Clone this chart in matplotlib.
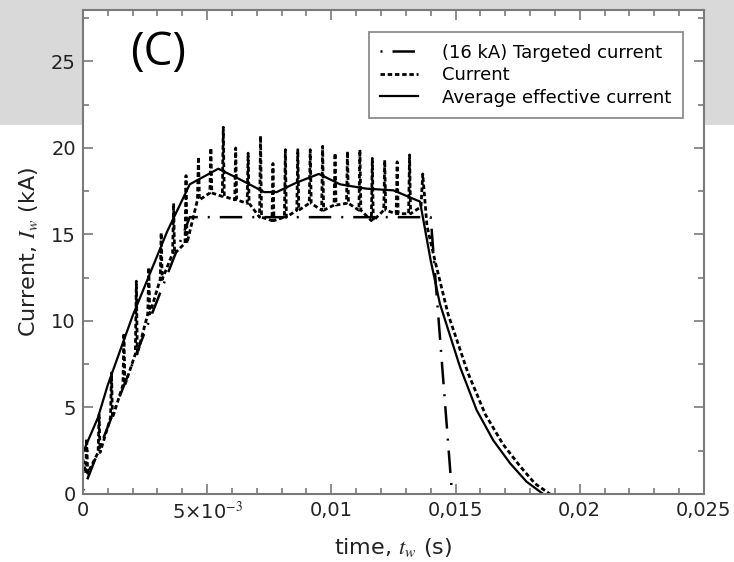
import matplotlib
matplotlib.use("Agg")
import matplotlib.pyplot as plt
from matplotlib.patches import Rectangle
from matplotlib.ticker import FixedLocator, MultipleLocator

# ---- data -----------------------------------------------------------------
# Targeted current (16 kA programme)
target_t = [0.0, 0.0043, 0.0140, 0.01486]
target_ka = [0.2, 16.0, 16.0, 0.0]

# Measured current (ripple peaks / troughs, then decay)
current_t = [
    0.0,
    0.00011, 0.00015, 0.00019,
    0.00061, 0.00065, 0.00069,
    0.00111, 0.00115, 0.00119,
    0.00161, 0.00165, 0.00169,
    0.00211, 0.00215, 0.00219,
    0.00261, 0.00265, 0.00269,
    0.00311, 0.00315, 0.00319,
    0.00361, 0.00365, 0.00369,
    0.00411, 0.00415, 0.00419,
    0.00461, 0.00465, 0.00469,
    0.00511, 0.00515, 0.00519,
    0.00561, 0.00565, 0.00569,
    0.00611, 0.00615, 0.00619,
    0.00661, 0.00665, 0.00669,
    0.00711, 0.00715, 0.00719,
    0.00761, 0.00765, 0.00769,
    0.00811, 0.00815, 0.00819,
    0.00861, 0.00865, 0.00869,
    0.00911, 0.00915, 0.00919,
    0.00961, 0.00965, 0.00969,
    0.01011, 0.01015, 0.01019,
    0.01061, 0.01065, 0.01069,
    0.01111, 0.01115, 0.01119,
    0.01161, 0.01165, 0.01169,
    0.01211, 0.01215, 0.01219,
    0.01261, 0.01265, 0.01269,
    0.01311, 0.01315, 0.01319,
    0.01361, 0.01368,
    0.01385, 0.01417, 0.0147, 0.0155, 0.0162, 0.0169, 0.0176, 0.0182, 0.0188,
]
current_ka = [
    2.0,
    1.2, 3.2, 1.2,
    2.4, 4.6, 2.4,
    4.4, 7.0, 4.4,
    6.3, 9.3, 6.3,
    8.1, 12.3, 8.1,
    10.4, 13.1, 10.4,
    12.4, 15.1, 12.4,
    13.9, 16.8, 13.9,
    14.5, 18.4, 14.5,
    17.0, 19.5, 17.0,
    17.4, 20.0, 17.4,
    17.2, 21.2, 17.2,
    17.0, 20.0, 17.0,
    16.8, 19.7, 16.8,
    16.0, 20.7, 16.0,
    15.8, 19.1, 15.8,
    16.0, 19.9, 16.0,
    16.4, 19.9, 16.4,
    16.8, 19.9, 16.8,
    16.4, 20.1, 16.4,
    16.7, 19.7, 16.7,
    16.8, 19.8, 16.8,
    16.4, 19.9, 16.4,
    15.8, 19.4, 15.8,
    16.4, 19.3, 16.4,
    16.2, 19.2, 16.2,
    16.2, 19.6, 16.2,
    16.6, 18.5,
    15.5, 13.5, 10.4, 7.0, 4.6, 2.9, 1.6, 0.6, 0.0,
]

# Average effective current
average_t = [0.0, 0.0006, 0.0010, 0.0020, 0.0034, 0.0043, 0.00545, 0.0063,
             0.0073, 0.0078, 0.0086, 0.0095, 0.01035, 0.0114, 0.0125, 0.01357,
             0.0140, 0.01437, 0.01518, 0.01585, 0.01652, 0.0172, 0.01786, 0.01853]
average_ka = [2.4, 4.4, 6.3, 10.3, 15.2, 17.9, 18.8, 18.2,
              17.45, 17.45, 18.0, 18.5, 17.9, 17.65, 17.55, 16.9,
              13.5, 11.0, 7.35, 4.85, 3.1, 1.77, 0.71, 0.0]

xtick_values = [0.0, 0.005, 0.010, 0.015, 0.020, 0.025]
xtick_labels = ["0", "5×10$^{-3}$", "0,01", "0,015", "0,02", "0,025"]
ytick_values = [0, 5, 10, 15, 20, 25]

# ---- style ----------------------------------------------------------------
plt.rcParams["font.family"] = ["DejaVu Sans"]
plt.rcParams["mathtext.fontset"] = "stix"

frame_grey = "#7a7a7a"
text_col = "#222222"

fig = plt.figure(figsize=(7.34, 5.62), dpi=100)
fig.patches.append(Rectangle((0, 0.7776), 1, 0.2224, transform=fig.transFigure,
                             facecolor="#d9d9d9", edgecolor="none", zorder=-10))

ax = fig.add_axes([0.113, 0.121, 0.846, 0.862])
ax.set_facecolor("white")

# dash-dot pattern starts with the dot
ax.plot(target_t, target_ka, color="black", lw=1.8,
        linestyle=(13, (9, 4, 0.8, 4)), label="(16 kA) Targeted current")
ax.plot(current_t, current_ka, color="black", lw=2.0,
        linestyle=(0, (1.6, 1.0)), label="Current")
ax.plot(average_t, average_ka, color="black", lw=1.6,
        label="Average effective current")

ax.set_xlim(0, 0.025)
ax.set_ylim(0, 28)

ax.xaxis.set_major_locator(FixedLocator(xtick_values))
ax.set_xticklabels(xtick_labels)
ax.xaxis.set_minor_locator(MultipleLocator(0.001))
ax.yaxis.set_major_locator(FixedLocator(ytick_values))
ax.yaxis.set_minor_locator(MultipleLocator(2.5))

ax.tick_params(which="both", direction="in", top=True, right=True,
               color=frame_grey, labelcolor=text_col, labelsize=14, width=1.2)
ax.tick_params(which="major", length=7, pad=5)
ax.tick_params(which="minor", length=4)
for sp in ax.spines.values():
    sp.set_color(frame_grey)
    sp.set_linewidth(1.5)

ax.set_xlabel("time, $t_w$ (s)", fontsize=16, color=text_col, labelpad=9)
ax.set_ylabel("Current, $I_w$ (kA)", fontsize=16, color=text_col, labelpad=8)

ax.text(0.00302, 25.5, "(C)", fontsize=33, family=["Open Sans", "DejaVu Sans"],
        color="black", ha="center", va="center")

leg = ax.legend(loc="upper right", bbox_to_anchor=(0.966, 0.954),
                borderaxespad=0, fontsize=13, handlelength=2.1,
                handletextpad=1.3, fancybox=False, framealpha=1,
                edgecolor="#8c8c8c", labelspacing=0.25, borderpad=0.65)
leg.get_frame().set_linewidth(1.3)

fig.savefig("out.png", dpi=100, facecolor="white")
